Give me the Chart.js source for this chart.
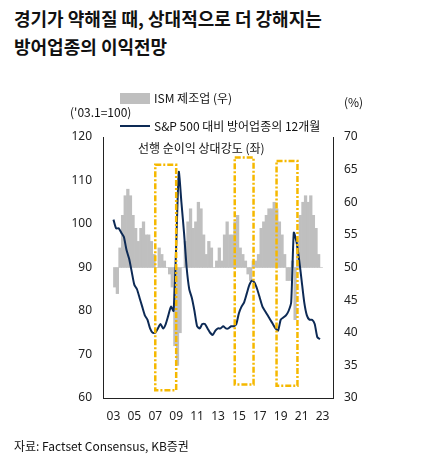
<!DOCTYPE html>
<html><head><meta charset="utf-8">
<script src="https://cdn.jsdelivr.net/npm/chart.js@4/dist/chart.umd.min.js"></script>
<style>
body{margin:0;width:432px;height:462px;background:#fff;font-family:"Noto Sans CJK KR","Noto Sans",sans-serif;position:relative;overflow:hidden}
.t{position:absolute;color:#111}
#wrap{position:absolute;left:0;top:0;width:432px;height:462px}
</style></head><body>
<div class="t" style="left:14px;top:4px;font-size:18px;font-weight:bold;line-height:28px">경기가 약해질 때, 상대적으로 더 강해지는<br>방어업종의 이익전망</div>
<div id="wrap"><canvas id="c" width="432" height="462"></canvas></div>
<div class="t" style="left:70px;top:103px;font-size:12px">('03.1=100)</div>
<div class="t" style="left:344px;top:93px;font-size:12px">(%)</div>
<div class="t" style="left:120px;top:89px;font-size:12px"><span style="display:inline-block;width:30px;height:11px;background:#bfbfbf;vertical-align:-1px;margin-right:4px"></span>ISM 제조업 (우)</div>
<div class="t" style="left:120px;top:115px;font-size:12px;line-height:22px"><span style="display:inline-block;width:30px;height:2px;background:#0d2a55;vertical-align:4px;margin-right:4px"></span>S&amp;P 500 대비 방어업종의 12개월<br><span style="margin-left:18px">선행 순이익 상대강도 (좌)</span></div>
<div class="t" style="left:14px;top:437px;font-size:12px">자료: Factset Consensus, KB증권</div>
<script>
var years = [];
for (var y = 2003; y < 2023; y += 0.25) years.push(y);
var relStrength = [101,99,99,98, 97,94,92,89, 86,85,83,81, 79,78,76,75, 75,76,77,76, 77,79,81,80,
  95,112,105,98, 90,85,83,80, 76.5,76,77,77, 76,75,74.5,75.5, 76,76,76.5,76, 76,76.5,76.5,77,
  79.5,81,82,84, 86,87,86.5,85, 83,81,80,79, 78,77,76,75.5, 78,78.5,79,80, 82,98,96,92,
  87,82,79,78, 78,77,74,73.5];
var ism = [47,46,53,58, 61,62,61,58, 56,54,56,57, 55,55,54,52, 50,53,52,51, 50,49,47,38,
  35,40,50,54, 57,59,56,57, 60,59,55,52, 54,53,50,51, 53,51,55,57, 55,55,57,58,
  53,52,51,49, 48,51,51,52, 56,57,58,59, 59,60,59,57, 55,52,48,48, 51,42,54,58,
  60,61,60,61, 58,56,52,50];
var boxes = [[2007,2009,113.6,61.8],[2014.6,2016.4,115.3,63.1],[2018.6,2020.6,114.5,62.8]];
var xTicks = [2003,2005,2007,2009,2011,2013,2015,2017,2019,2021,2023];

var boxPlugin = {
  id:'boxes',
  afterDatasetsDraw: function(ch){
    var c = ch.ctx, xs = ch.scales.x, ys = ch.scales.y;
    c.save(); c.strokeStyle='#f5b800'; c.lineWidth=2.5; c.setLineDash([6,2,2,2]);
    boxes.forEach(function(b){
      var x0=xs.getPixelForValue(b[0]), x1=xs.getPixelForValue(b[1]);
      var y0=ys.getPixelForValue(b[2]), y1=ys.getPixelForValue(b[3]);
      c.strokeRect(x0,y0,x1-x0,y1-y0);
    });
    c.restore();
  }
};
var font = {family:'"Noto Sans","DejaVu Sans",sans-serif', size:12};
new Chart(document.getElementById('c'), {
  data: {
    datasets: [
      {type:'line', data: years.map(function(x,i){return {x:x,y:relStrength[i]};}), yAxisID:'y',
       borderColor:'#0d2a55', borderWidth:2, pointRadius:0, tension:0.2, order:0},
      {type:'bar', data: years.map(function(x,i){return {x:x+0.125,y:[50,ism[i]]};}), yAxisID:'y2',
       backgroundColor:'#bfbfbf', barPercentage:1, categoryPercentage:1, order:1}
    ]
  },
  options: {
    responsive:false, animation:false,
    layout:{padding:{left:63,right:59,top:137,bottom:34}},
    plugins:{legend:{display:false},tooltip:{enabled:false}},
    scales:{
      x:{type:'linear', min:2003, max:2023, grid:{display:false}, border:{color:'#222'},
         afterBuildTicks:function(s){s.ticks=xTicks.map(function(v){return {value:v};});},
         afterFit:function(s){s.height=30;},
         ticks:{color:'#222',font:font,maxRotation:0,callback:function(v){return String(v).slice(2);}}},
      y:{position:'left', min:60, max:120, grid:{display:false}, border:{color:'#222'},
         afterFit:function(s){s.width=40;}, ticks:{stepSize:10,color:'#222',font:font}},
      y2:{position:'right', min:30, max:70, grid:{display:false}, border:{color:'#222'},
         afterFit:function(s){s.width=40;}, ticks:{stepSize:5,color:'#222',font:font}}
    }
  },
  plugins:[boxPlugin]
});
</script>
</body></html>
